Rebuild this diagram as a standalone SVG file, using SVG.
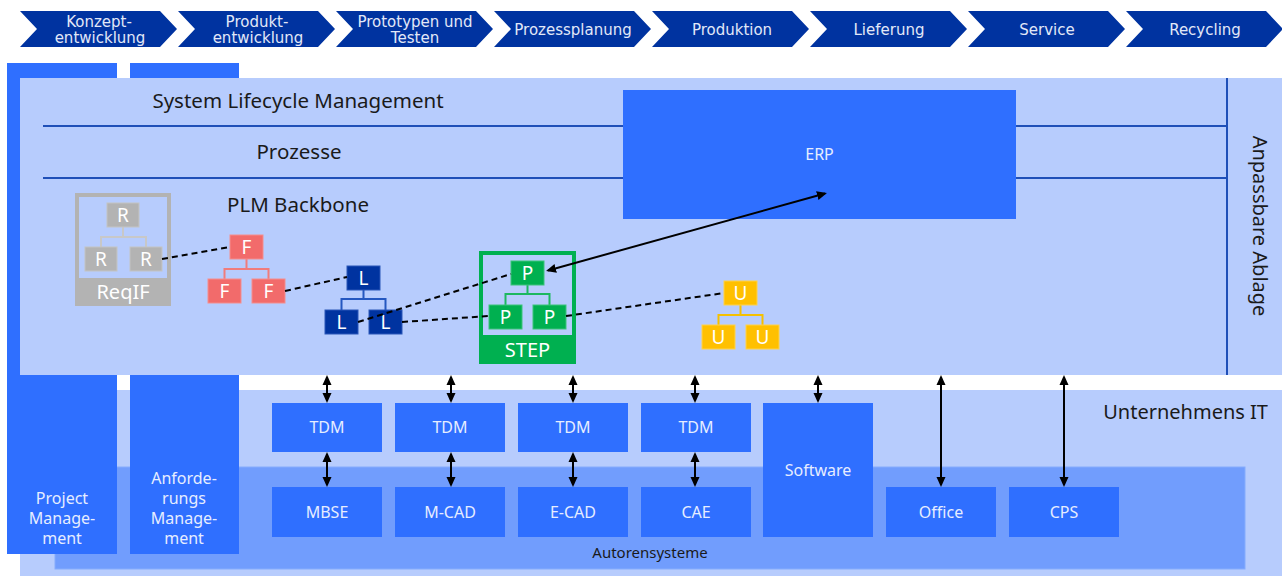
<svg xmlns="http://www.w3.org/2000/svg" width="1282" height="576" viewBox="0 0 1282 576">
<style>
.chev{fill:#0033a0}
.chevt{font-family:"DejaVu Sans",Verdana,sans-serif;font-size:15px;fill:#e2e8f8;text-anchor:middle}
.panel{fill:#b7ccfd}
.mid{fill:#719dfd;stroke:#86acfd;stroke-width:1}
.blue{fill:#2f6fff}
.lbl{font-family:"Noto Sans","Open Sans",sans-serif;fill:#1a1a1a}
.big{font-size:20.5px;text-anchor:middle}
.wt{font-family:"Noto Sans","Open Sans",sans-serif;fill:#e6edff;text-anchor:middle;font-size:16px}
.node{font-family:"Noto Sans","Open Sans",sans-serif;fill:#ffffff;text-anchor:middle;font-size:19px}
.cap{font-family:"Noto Sans","Open Sans",sans-serif;fill:#ffffff;text-anchor:middle;font-size:20px}
.sep{stroke:#1f4fb8;stroke-width:2;fill:none}
.dash{stroke:#000;stroke-width:2;stroke-dasharray:6 4;fill:none}
.arr{stroke:#000;stroke-width:2;fill:none;marker-start:url(#ah);marker-end:url(#ah)}
.gray{fill:#b3b3b3;stroke:#c4c4c4;stroke-width:1}
.red{fill:#f26b6b;stroke:#f58d8d;stroke-width:1}
.dblue{fill:#0033a0;stroke:#2a57b8;stroke-width:1}
.green{fill:#00b050;stroke:#3cc37a;stroke-width:1}
.yel{fill:#ffc000;stroke:#ffd24a;stroke-width:1}
</style>
<defs>
<marker id="ah" markerUnits="userSpaceOnUse" markerWidth="12" markerHeight="10" refX="8" refY="5" orient="auto-start-reverse" viewBox="0 0 12 10"><path d="M0,0.5 L10,5 L0,9.5 z" fill="#000"/></marker>
<polygon id="chevshape" points="0,11 140,11 157,29 140,47 0,47 17,29"/>
</defs>

<g id="phases">
<g id="phase1"><use href="#chevshape" x="20" class="chev"/><text class="chevt" x="99" y="27">Konzept-</text><text class="chevt" x="100" y="43">entwicklung</text></g>
<g id="phase2"><use href="#chevshape" x="178" class="chev"/><text class="chevt" x="257" y="27">Produkt-</text><text class="chevt" x="258" y="43">entwicklung</text></g>
<g id="phase3"><use href="#chevshape" x="336" class="chev"/><text class="chevt" x="415" y="27">Prototypen und</text><text class="chevt" x="415" y="43">Testen</text></g>
<g id="phase4"><use href="#chevshape" x="494" class="chev"/><text class="chevt" x="573" y="35">Prozessplanung</text></g>
<g id="phase5"><use href="#chevshape" x="652" class="chev"/><text class="chevt" x="732" y="35">Produktion</text></g>
<g id="phase6"><use href="#chevshape" x="810" class="chev"/><text class="chevt" x="889" y="35">Lieferung</text></g>
<g id="phase7"><use href="#chevshape" x="968" class="chev"/><text class="chevt" x="1047" y="35">Service</text></g>
<g id="phase8"><use href="#chevshape" x="1126" class="chev"/><text class="chevt" x="1205" y="35">Recycling</text></g>
</g>

<g id="unternehmens-it">
<rect class="panel" x="20" y="390" width="1262" height="186"/>
<text class="lbl" x="1268" y="419" font-size="20" text-anchor="end">Unternehmens IT</text>
</g>
<g id="autorensysteme">
<rect class="mid" x="55" y="467" width="1190" height="102"/>
<text class="lbl" x="650" y="558" font-size="15" text-anchor="middle">Autorensysteme</text>
</g>

<g id="project-management">
<rect class="blue" x="7" y="63" width="110" height="491"/>
<text class="wt" x="62" y="504">Project</text>
<text class="wt" x="62" y="524">Manage-</text>
<text class="wt" x="62" y="544">ment</text>
</g>
<g id="anforderungs-management">
<rect class="blue" x="130" y="63" width="109" height="491"/>
<text class="wt" x="184" y="484">Anforde-</text>
<text class="wt" x="184" y="504">rungs</text>
<text class="wt" x="184" y="524">Manage-</text>
<text class="wt" x="184" y="544">ment</text>
</g>

<g id="slm">
<rect class="panel" x="20" y="78" width="1262" height="297"/>
<path class="sep" d="M43,126 H1227 M43,178 H1227 M1227,78 V375"/>
<text class="lbl big" x="298" y="108">System Lifecycle Management</text>
<text class="lbl big" x="299" y="159">Prozesse</text>
<text class="lbl big" x="298" y="212">PLM Backbone</text>
<text class="lbl" font-size="20" text-anchor="middle" transform="translate(1253,226) rotate(90)">Anpassbare Ablage</text>
</g>

<g id="erp">
<rect class="blue" x="623" y="90" width="393" height="129"/>
<text class="wt" x="819.5" y="160">ERP</text>
</g>

<g id="reqif">
<rect x="77" y="195" width="92" height="109" fill="none" stroke="#b3b3b3" stroke-width="4"/>
<rect x="75" y="278" width="96" height="28" fill="#b3b3b3"/>
<text class="cap" x="123" y="299">ReqIF</text>
<path d="M123,227 V237 M101,237 H146 M101,236 V247 M146,236 V247" stroke="#c8c8c8" stroke-width="2" fill="none"/>
<rect class="gray" x="107" y="203" width="32" height="24"/><text class="node" x="123" y="222">R</text>
<rect class="gray" x="85" y="247" width="32" height="24"/><text class="node" x="101" y="266">R</text>
<rect class="gray" x="130" y="247" width="32" height="24"/><text class="node" x="146" y="266">R</text>
</g>

<g id="f-tree">
<path d="M246.5,259 V269 M224.5,269 H268.5 M224.5,268 V279 M268.5,268 V279" stroke="#f07c7c" stroke-width="2" fill="none"/>
<rect class="red" x="230" y="235" width="33" height="24"/><text class="node" x="246.5" y="254">F</text>
<rect class="red" x="208" y="279" width="33" height="24"/><text class="node" x="224.5" y="298">F</text>
<rect class="red" x="252" y="279" width="33" height="24"/><text class="node" x="268.5" y="298">F</text>
</g>

<g id="l-tree">
<path d="M363.5,290 V299 M341.5,299 H385.5 M341.5,298 V310 M385.5,298 V310" stroke="#2457c0" stroke-width="2" fill="none"/>
<rect class="dblue" x="347" y="266" width="33" height="24"/><text class="node" x="363.5" y="285">L</text>
<rect class="dblue" x="325" y="310" width="33" height="24"/><text class="node" x="341.5" y="329">L</text>
<rect class="dblue" x="369" y="310" width="33" height="24"/><text class="node" x="385.5" y="329">L</text>
</g>

<g id="step">
<rect x="481" y="253" width="93" height="109" fill="none" stroke="#00b050" stroke-width="4"/>
<rect x="479" y="335" width="97" height="29" fill="#00b050"/>
<text class="cap" x="527.5" y="357">STEP</text>
<path d="M527.5,285 V294 M505.5,294 H549.5 M505.5,293 V305 M549.5,293 V305" stroke="#1cb860" stroke-width="2" fill="none"/>
<rect class="green" x="511" y="261" width="33" height="24"/><text class="node" x="527.5" y="280">P</text>
<rect class="green" x="489" y="305" width="33" height="24"/><text class="node" x="505.5" y="324">P</text>
<rect class="green" x="533" y="305" width="33" height="24"/><text class="node" x="549.5" y="324">P</text>
</g>

<g id="u-tree">
<path d="M740.5,305 V315 M718.5,315 H762.5 M718.5,314 V325 M762.5,314 V325" stroke="#f5c000" stroke-width="2" fill="none"/>
<rect class="yel" x="724" y="281" width="33" height="24"/><text class="node" x="740.5" y="300">U</text>
<rect class="yel" x="702" y="325" width="33" height="24"/><text class="node" x="718.5" y="344">U</text>
<rect class="yel" x="746" y="325" width="33" height="24"/><text class="node" x="762.5" y="344">U</text>
</g>

<g id="tdm1"><rect class="blue" x="272" y="403" width="110" height="49"/><text class="wt" x="327" y="433">TDM</text></g>
<g id="tdm2"><rect class="blue" x="395" y="403" width="110" height="49"/><text class="wt" x="450" y="433">TDM</text></g>
<g id="tdm3"><rect class="blue" x="518" y="403" width="110" height="49"/><text class="wt" x="573" y="433">TDM</text></g>
<g id="tdm4"><rect class="blue" x="641" y="403" width="110" height="49"/><text class="wt" x="696" y="433">TDM</text></g>
<g id="software"><rect class="blue" x="763" y="403" width="110" height="134"/><text class="wt" x="818" y="476">Software</text></g>
<g id="mbse"><rect class="blue" x="272" y="487" width="110" height="50"/><text class="wt" x="327" y="518">MBSE</text></g>
<g id="mcad"><rect class="blue" x="395" y="487" width="110" height="50"/><text class="wt" x="450" y="518">M-CAD</text></g>
<g id="ecad"><rect class="blue" x="518" y="487" width="110" height="50"/><text class="wt" x="573" y="518">E-CAD</text></g>
<g id="cae"><rect class="blue" x="641" y="487" width="110" height="50"/><text class="wt" x="696" y="518">CAE</text></g>
<g id="office"><rect class="blue" x="886" y="487" width="110" height="50"/><text class="wt" x="941" y="518">Office</text></g>
<g id="cps"><rect class="blue" x="1009" y="487" width="110" height="50"/><text class="wt" x="1064" y="518">CPS</text></g>

<g id="connectors">
<path class="dash" d="M162,259 L230,247"/>
<path class="dash" d="M285,291 L347,277"/>
<path class="dash" d="M358,322 L511,274"/>
<path class="dash" d="M402,322 L489,316"/>
<path class="dash" d="M566,316 L724,293"/>
<line class="arr" x1="548" y1="270.5" x2="825" y2="193.5"/>
<line class="arr" x1="327" y1="377" x2="327" y2="401"/>
<line class="arr" x1="451" y1="377" x2="451" y2="401"/>
<line class="arr" x1="573" y1="377" x2="573" y2="401"/>
<line class="arr" x1="695" y1="377" x2="695" y2="401"/>
<line class="arr" x1="818" y1="377" x2="818" y2="401"/>
<line class="arr" x1="327" y1="454" x2="327" y2="485"/>
<line class="arr" x1="451" y1="454" x2="451" y2="485"/>
<line class="arr" x1="573" y1="454" x2="573" y2="485"/>
<line class="arr" x1="695" y1="454" x2="695" y2="485"/>
<line class="arr" x1="941" y1="377" x2="941" y2="485"/>
<line class="arr" x1="1064" y1="377" x2="1064" y2="485"/>
</g>
</svg>
